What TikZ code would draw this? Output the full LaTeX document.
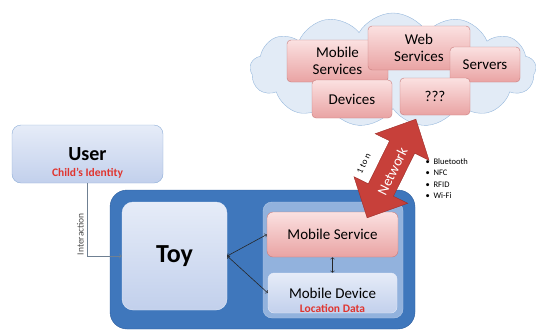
\documentclass[tikz,border=0pt]{standalone}
\usepackage{fontspec}
\setmainfont{Carlito}
\usetikzlibrary{positioning,shapes.symbols}

\definecolor{cloudfill}{HTML}{E2EBF6}
\definecolor{cloudline}{HTML}{98B9DD}
\definecolor{pinktop}{HTML}{FBE1E1}
\definecolor{pinkbot}{HTML}{E9A3A3}
\definecolor{pinkline}{HTML}{C87C7C}
\definecolor{bluetop}{HTML}{E6ECF8}
\definecolor{bluebot}{HTML}{C2D0EC}
\definecolor{blueline}{HTML}{8DADD7}
\definecolor{toyblue}{HTML}{3F77BC}
\definecolor{toyline}{HTML}{2D5E9E}
\definecolor{panelblue}{HTML}{92B2DD}
\definecolor{netred}{HTML}{C7403A}
\definecolor{netline}{HTML}{9E2D28}
\definecolor{redtxt}{HTML}{E0352F}
\definecolor{feedgray}{HTML}{6F8092}

\begin{document}
\begin{tikzpicture}[x=1pt,y=-1pt,
        cloudbox/.style={rectangle,rounded corners=4pt,draw=pinkline,top color=pinktop,bottom color=pinkbot,align=center,font=\fontsize{15}{17.5}\selectfont},
        bluebox/.style={rectangle,rounded corners=9pt,draw=blueline,top color=bluetop,bottom color=bluebot},
        redtext/.style={text=redtxt,font=\bfseries\fontsize{11.5}{12}\selectfont},
        link/.style={to-to,semithick,black!85}
    ]
    \useasboundingbox (0,0) rectangle (541,330);

    \node[cloud,cloud puffs=13,cloud puff arc=120,aspect=2.3,draw=cloudline,fill=cloudfill,minimum width=286pt,minimum height=114pt,inner sep=0pt] (internet) at (393,70) {};
    \node[cloudbox,minimum width=101pt,minimum height=42pt] (mservices) at (337.5,61) {Mobile\\Services};
    \node[cloudbox,minimum width=102pt,minimum height=44pt] (web) at (419,48) {Web\\Services};
    \node[cloudbox,minimum width=70pt,minimum height=35pt] (servers) at (485,64.5) {Servers};
    \node[cloudbox,minimum width=80pt,minimum height=38pt] (devices) at (352,99) {Devices};
    \node[cloudbox,minimum width=70pt,minimum height=37pt] (unknown) at (435,96.5) {???};

    \node[bluebox,minimum width=151pt,minimum height=58pt,font=\bfseries\fontsize{20}{22}\selectfont,
        label={[redtext,yshift=-19pt]center:Child's Identity}] (user) at (87.5,154) {User};

    \node[rectangle,rounded corners=17pt,fill=toyblue,draw=toyline,minimum width=305pt,minimum height=139pt] (kit) at (262.5,259.5) {};
    \node[bluebox,rounded corners=11pt,draw=bluetop,minimum width=105pt,minimum height=108pt,font=\bfseries\fontsize{26}{28}\selectfont] (toy) at (174.5,256) {Toy};
    \node[rectangle,rounded corners=9pt,fill=panelblue,draw=panelblue!70!white,minimum width=140pt,minimum height=116pt] (phone) at (333,260) {};
    \node[cloudbox,rounded corners=6pt,minimum width=131pt,minimum height=45pt] (mobsvc) at (332.5,234.5) {Mobile Service};
    \node[bluebox,rounded corners=6pt,draw=bluetop,minimum width=129pt,minimum height=40pt,font=\fontsize{15}{17}\selectfont,
        label={[redtext,yshift=-15pt]center:Location Data}] (mobdev) at (332.5,293) {Mobile Device};

    \draw[link] (toy.east) -- (mobsvc.west);
    \draw[link] (toy.east) -- (mobdev.west);
    \draw[link] (mobsvc.south) -- (mobdev.north);
    \draw[-to,thick,feedgray] (user.south) |- node[pos=0.35,rotate=90,anchor=south,text=black!70,font=\fontsize{9.5}{10}\selectfont] {Interaction} (toy.west);

    \begin{scope}[shift={(391.5,168.5)},rotate=63.7]
        \filldraw[fill=netred,draw=netline,line join=miter] (-55,0) -- (-24,30) -- (-24,14) -- (24,14) -- (24,30) -- (55,0)
            -- (24,-30) -- (24,-14) -- (-24,-14) -- (-24,-30) -- cycle;
        \node[transform shape,text=white,font=\fontsize{14.5}{15}\selectfont] (network) at (-2,2) {Network};
        \node[transform shape,font=\fontsize{9}{10}\selectfont] (fanout) at (-8,-27) {1 to n};
    \end{scope}
    \node[anchor=north west,align=left,font=\fontsize{8.5}{11.5}\selectfont] (radios) at (422,155)
        {\textbullet\ \ Bluetooth\\ \textbullet\ \ NFC\\ \textbullet\ \ RFID\\ \textbullet\ \ Wi-Fi};
\end{tikzpicture}
\end{document}
